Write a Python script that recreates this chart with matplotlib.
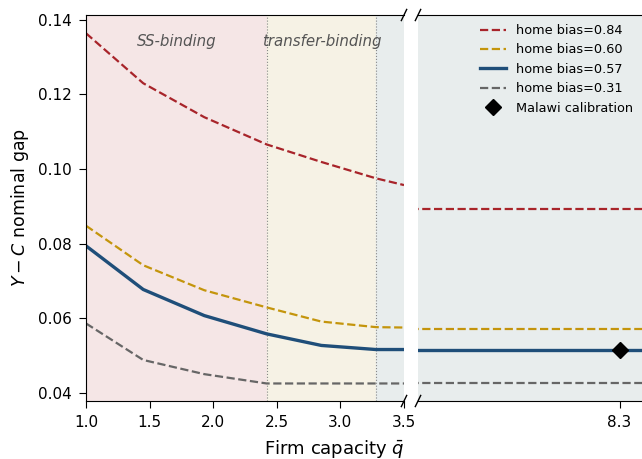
import matplotlib
matplotlib.use("Agg")
import matplotlib.pyplot as plt
import numpy as np

# firm capacity grid (left panel) and the gap for each home-bias level
q_left = [1.0, 1.45, 1.93, 2.42, 2.85, 3.28, 3.5]
gap_084 = [0.1364, 0.1230, 0.1139, 0.1066, 0.1019, 0.0975, 0.0957]
gap_060 = [0.0848, 0.0742, 0.0675, 0.0629, 0.0591, 0.0576, 0.0575]
gap_057 = [0.0794, 0.0677, 0.0607, 0.0558, 0.0527, 0.0516, 0.0516]
gap_031 = [0.0586, 0.0488, 0.0450, 0.0425, 0.0425, 0.0425, 0.0425]

# right panel: flat levels near the calibration
q_right = [7.0, 9.0]
flat_084 = [0.0893, 0.0893]
flat_060 = [0.0572, 0.0572]
flat_057 = [0.0516, 0.0516]
flat_031 = [0.0425, 0.0425]

malawi_q = 8.3
malawi_gap = 0.0516

ss_edge = 2.42
tr_edge = 3.28

c_red = "#a8242a"
c_gold = "#c4950c"
c_blue = "#1f4e79"
c_grey = "#666666"

fig = plt.figure(figsize=(6.42, 4.59), dpi=100)
W, H = 642, 459
ax1 = fig.add_axes([86 / W, 1 - 401 / H, (404 - 86) / W, (401 - 15) / H])
ax2 = fig.add_axes([418 / W, 1 - 401 / H, (642 - 418) / W, (401 - 15) / H])

ax1.axvspan(1.0, ss_edge, color="#f5e6e6", zorder=0)
ax1.axvspan(ss_edge, tr_edge, color="#f6f2e5", zorder=0)
ax1.axvspan(tr_edge, 3.5, color="#e8eded", zorder=0)
ax2.set_facecolor("#e8eded")
for xv in (ss_edge, tr_edge):
    ax1.axvline(xv, color="#888888", lw=0.8, ls=":", zorder=1)

ax1.plot(q_left, gap_084, color=c_red, ls="--", lw=1.6)
ax1.plot(q_left, gap_060, color=c_gold, ls="--", lw=1.6)
ax1.plot(q_left, gap_057, color=c_blue, ls="-", lw=2.4)
ax1.plot(q_left, gap_031, color=c_grey, ls="--", lw=1.6)

ax2.plot(q_right, flat_084, color=c_red, ls="--", lw=1.6, label="home bias=0.84")
ax2.plot(q_right, flat_060, color=c_gold, ls="--", lw=1.6, label="home bias=0.60")
ax2.plot(q_right, flat_057, color=c_blue, ls="-", lw=2.4, label="home bias=0.57")
ax2.plot(q_right, flat_031, color=c_grey, ls="--", lw=1.6, label="home bias=0.31")
ax2.plot([malawi_q], [malawi_gap], "D", color="black", ms=8, ls="none",
         label="Malawi calibration", zorder=5)

ylim = (0.0378, 0.1413)
ax1.set_ylim(ylim)
ax2.set_ylim(ylim)
ax1.set_xlim(1.0, 3.5)
ax2.set_xlim(7.4, 8.4)

ax1.set_xticks([1.0, 1.5, 2.0, 2.5, 3.0, 3.5])
ax1.set_yticks([0.04, 0.06, 0.08, 0.10, 0.12, 0.14])
ax2.set_xticks([malawi_q])
ax2.set_xticklabels(["8.3"])
ax2.set_yticks([])
ax1.tick_params(labelsize=11, length=5, pad=5)
ax2.tick_params(labelsize=11, length=5, pad=5)

ax1.spines["right"].set_visible(False)
ax2.spines["left"].set_visible(False)
ax2.spines["right"].set_visible(False)

# break marks
d = 0.012
kw = dict(color="k", clip_on=False, lw=1)
ax1.plot((1 - d * 0.7, 1 + d * 0.7), (-d * 1.2, d * 1.2), transform=ax1.transAxes, **kw)
ax1.plot((1 - d * 0.7, 1 + d * 0.7), (1 - d * 1.2, 1 + d * 1.2), transform=ax1.transAxes, **kw)
ax2.plot((-d, d), (-d * 1.2, d * 1.2), transform=ax2.transAxes, **kw)
ax2.plot((-d, d), (1 - d * 1.2, 1 + d * 1.2), transform=ax2.transAxes, **kw)

ax1.text((1.0 + ss_edge) / 2, 0.1343, "SS-binding", style="italic", color="#555555",
         fontsize=10.8, ha="center", va="center")
ax1.text((ss_edge + tr_edge) / 2, 0.1343, "transfer-binding", style="italic", color="#555555",
         fontsize=10.8, ha="center", va="center")

ax1.set_ylabel("$Y - C$ nominal gap", fontsize=12.5, labelpad=5)
ax1.set_xlabel(r"Firm capacity $\bar{q}$", fontsize=13, loc="right", labelpad=6)

ax2.legend(loc="upper right", frameon=False, fontsize=9.3, borderaxespad=0.3)

fig.savefig("out.png", dpi=100)
